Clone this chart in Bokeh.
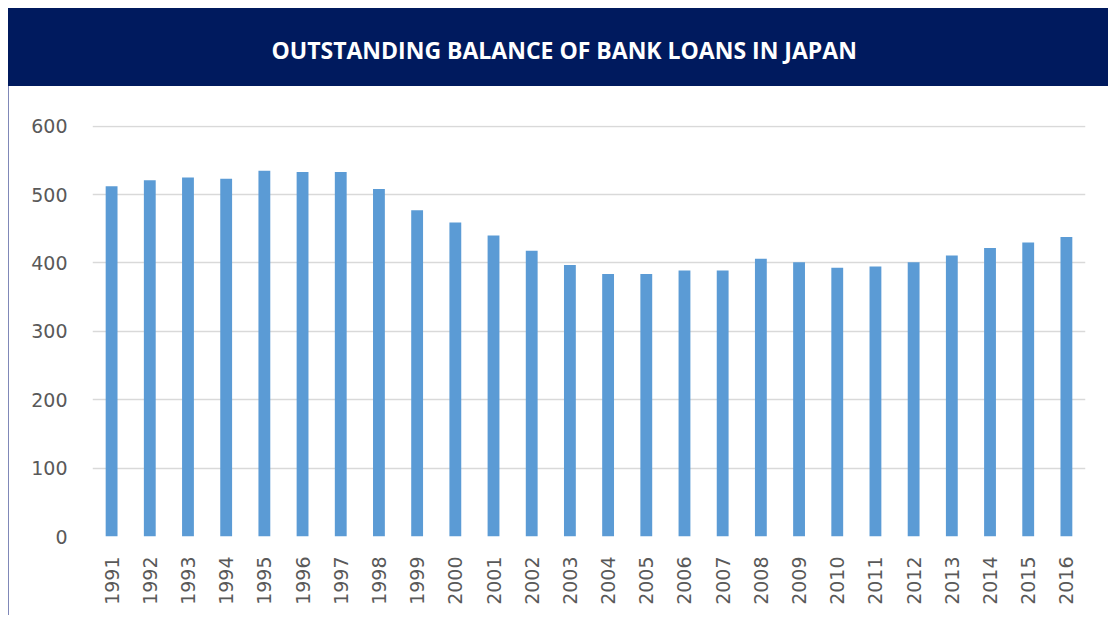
from bokeh.plotting import figure
from bokeh.layouts import column
from bokeh.models import ColumnDataSource, FactorRange, Range1d, FixedTicker
from bokeh.core.properties import value
from bokeh.embed import file_html
from bokeh.resources import INLINE
import math

title_text = "OUTSTANDING BALANCE OF BANK LOANS IN JAPAN"
years = [str(y) for y in range(1991, 2017)]
balances = [512, 521, 525, 523, 535, 533, 533, 508, 477, 459,
            440, 418, 397, 384, 384, 389, 389, 406, 401, 393,
            395, 401, 411, 422, 430, 438]
y_ticks = [0, 100, 200, 300, 400, 500, 600]

NAVY = "#001A5E"

# Banner
banner = figure(width=1100, height=78, x_range=Range1d(0, 1), y_range=Range1d(0, 1),
                output_backend="svg", toolbar_location=None,
                x_axis_type=None, y_axis_type=None, min_border=0)
banner.background_fill_color = NAVY
banner.border_fill_color = NAVY
banner.outline_line_color = None
banner.grid.visible = False
banner.styles = {"background-color": NAVY}
banner.text(x=[0.476], y=[0.47], text=[title_text], text_color="white",
            text_font=value("Open Sans"), text_font_style="bold",
            text_font_size="23px", text_align="center", text_baseline="middle")

# Main chart
src = ColumnDataSource(dict(year=years, balance=balances))
p = figure(width=1100, height=529, x_range=FactorRange(*years),
           y_range=Range1d(0, 601), output_backend="svg", toolbar_location=None,
           min_border_left=83, min_border_right=24, min_border_top=39,
           min_border_bottom=79)
p.vbar(x="year", top="balance", width=0.31, source=src,
       fill_color="#5B9BD5", line_color=None)
p.outline_line_color = None
p.background_fill_color = "white"
p.border_fill_color = "white"
p.xgrid.visible = False
p.ygrid.grid_line_color = "#D9D9D9"
p.ygrid.grid_line_width = 1.5
p.yaxis.ticker = FixedTicker(ticks=y_ticks)
for ax in (p.xaxis, p.yaxis):
    ax.axis_line_color = None
    ax.major_tick_line_color = None
    ax.minor_tick_line_color = None
    ax.major_label_text_font = "DejaVu Sans"
    ax.major_label_text_font_size = "19px"
    ax.major_label_text_color = "#595959"
p.yaxis.major_label_standoff = 19
p.xaxis.major_label_standoff = 14
p.xaxis.major_label_orientation = math.pi / 2
p.x_range.range_padding = 0
p.x_range.factor_padding = 0
p.styles = {"border-left": "1px solid #8088B8"}

layout = column(banner, p, spacing=0)
layout.styles = {"margin-left": "8px", "margin-top": "8px"}
open("out.html", "w").write(file_html(layout, INLINE))
